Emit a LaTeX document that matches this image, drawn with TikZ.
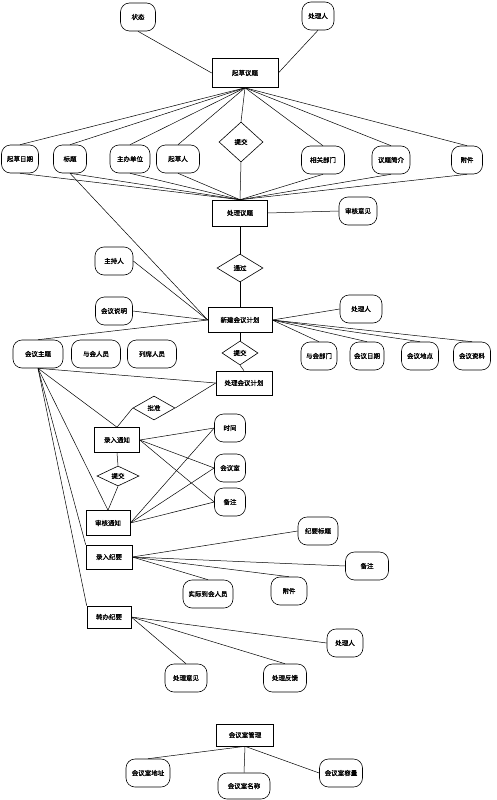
\documentclass[tikz,border=0pt]{standalone}
\usepackage{fontspec}
\newfontfamily\cjk[FakeBold=1.2]{Noto Sans CJK SC}
\usetikzlibrary{shapes.geometric}
\tikzset{
  base/.style={font=\cjk\fontsize{6.5}{7}\selectfont, line width=0.6pt, fill=white, draw=black},
  attr/.style={base, rounded corners=9pt, minimum height=28pt, inner xsep=4pt},
  ent/.style={base, rectangle, minimum height=25pt, inner xsep=5pt},
  rel/.style={base, diamond, inner sep=0pt},
  ln/.style={line width=0.5pt}
}
\begin{document}
\begin{tikzpicture}[x=1pt,y=-1pt]
\useasboundingbox (0,0) rectangle (497,800);
% top
\node[attr, minimum width=35pt] (zt) at (138,17) {状态};
\node[attr, minimum width=32pt] (clrA) at (318,16) {处理人};
\node[ent, minimum width=66pt, minimum height=29pt] (qc) at (245,73) {起草议题};
% row 1
\node[attr, minimum width=37pt] (qcrq) at (20,159) {起草日期};
\node[attr, minimum width=33pt] (bt) at (70,159) {标题};
\node[attr, minimum width=40pt] (zbdw) at (130,159) {主办单位};
\node[attr, minimum width=43pt] (qcr) at (178,159) {起草人};
\node[rel, minimum width=44pt, minimum height=40pt] (tjA) at (241,142) {提交};
\node[attr, minimum width=43pt] (xgbm) at (323,160) {相关部门};
\node[attr, minimum width=38pt] (ytjj) at (391,160) {议题简介};
\node[attr, minimum width=31pt] (fjA) at (467,160) {附件};
% process topic
\node[ent, minimum width=55pt, minimum height=26pt] (clyt) at (240,213) {处理议题};
\node[attr, minimum width=38pt] (shyj) at (358,211) {审核意见};
\node[rel, minimum width=46pt, minimum height=28pt] (tg) at (240,268) {通过};
\node[attr, minimum width=38pt] (zcr) at (114,261) {主持人};
\node[attr, minimum width=37pt] (hysm) at (114,311) {会议说明};
\node[ent, minimum width=64pt] (xj) at (240,320) {新建会议计划};
\node[attr, minimum width=42pt] (clrB) at (361,309) {处理人};
% row 2
\node[attr, minimum width=50pt] (hyzt) at (38,354) {会议主题};
\node[attr, minimum width=49pt] (yhry) at (96,354) {与会人员};
\node[attr, minimum width=49pt] (lxry) at (152,354) {列席人员};
\node[rel, minimum width=36pt, minimum height=24pt] (tjB) at (240,353) {提交};
\node[attr, minimum width=36pt] (yhbm) at (319,356) {与会部门};
\node[attr, minimum width=33pt] (hyrq) at (367,356) {会议日期};
\node[attr, minimum width=37pt] (hydd) at (420,356) {会议地点};
\node[attr, minimum width=37pt] (hyzl) at (472,356) {会议资料};
\node[ent, minimum width=56pt, minimum height=24pt] (clhy) at (244,383) {处理会议计划};
% notice
\node[rel, minimum width=42pt, minimum height=24pt] (pz) at (154,408) {批准};
\node[ent, minimum width=45pt] (lrtz) at (117,440) {录入通知};
\node[rel, minimum width=42pt, minimum height=20pt] (tjC) at (118,476) {提交};
\node[ent, minimum width=44pt] (shtz) at (108,523) {审核通知};
\node[attr, minimum width=31pt] (sj) at (230,428) {时间};
\node[attr, minimum width=31pt] (hys) at (230,468) {会议室};
\node[attr, minimum width=31pt] (bzA) at (230,502) {备注};
% minutes
\node[attr, minimum width=40pt] (jybt) at (318,531) {纪要标题};
\node[ent, minimum width=46pt, minimum height=24pt] (lrjy) at (109,557) {录入纪要};
\node[attr, minimum width=43pt] (bzB) at (367,566) {备注};
\node[attr, minimum width=50pt] (sjdh) at (208,594) {实际到会人员};
\node[attr, minimum width=36pt] (fjB) at (289,591) {附件};
\node[ent, minimum width=44pt, minimum height=22pt] (zbjy) at (109,617) {转办纪要};
\node[attr, minimum width=36pt] (clrC) at (345,643) {处理人};
\node[attr, minimum width=42pt] (clyj) at (186,678) {处理意见};
\node[attr, minimum width=43pt] (clfk) at (285,678) {处理反馈};
% meeting room
\node[ent, minimum width=57pt, minimum height=22pt] (hysgl) at (245,735) {会议室管理};
\node[attr, minimum width=44pt] (dz) at (148,773) {会议室地址};
\node[attr, minimum width=52pt, minimum height=26pt] (mc) at (244,786) {会议室名称};
\node[attr, minimum width=43pt] (rl) at (341,773) {会议室容量};

\begin{scope}[ln]
\draw (zt.south) -- (qc.west);
\draw (clrA.south) -- (qc.east);
\foreach \n in {qcrq,bt,zbdw,qcr,tjA,xgbm,ytjj,fjA} {
  \draw (qc.south) -- (\n.north);
  \draw (\n.south) -- (clyt.north);
}
\draw (bt.south) -- (xj.west);
\draw (clyt.east) -- (shyj.west);
\draw (clyt.south) -- (tg.north);
\draw (tg.south) -- (xj.north);
\draw (zcr.east) -- (xj.west);
\draw (hysm.east) -- (xj.west);
\draw (xj.west) -- (hyzt.north);
\draw (xj.east) -- (clrB.west);
\foreach \n in {yhbm,hyrq,hydd,hyzl} \draw (xj.east) -- (\n.north);
\draw (xj.south) -- (tjB.north);
\draw (tjB.south) -- (clhy.north);
\draw (hyzt.south) -- (clhy.west);
\draw (hyzt.south) -- (lrtz.north);
\draw (hyzt.south) -- (shtz.north);
\draw (hyzt.south) -- (lrjy.north west);
\draw (hyzt.south) -- (zbjy.north west);
\draw (clhy.west) -- (pz.east);
\draw (pz.west) -- (lrtz.north);
\draw (lrtz.south) -- (tjC.north);
\draw (tjC.south) -- (shtz.north);
\foreach \n in {sj,hys,bzA} {
  \draw (lrtz.east) -- (\n.west);
  \draw (shtz.east) -- (\n.west);
}
\draw (lrjy.east) -- (jybt.west);
\draw (lrjy.east) -- (bzB.west);
\draw (lrjy.east) -- (sjdh.north);
\draw (lrjy.east) -- (fjB.north);
\draw (zbjy.east) -- (clrC.west);
\draw (zbjy.east) -- (clyj.north);
\draw (zbjy.east) -- (clfk.north);
\draw (hysgl.south) -- (dz.north);
\draw (hysgl.south) -- (mc.north);
\draw (hysgl.south) -- (rl.west);
\end{scope}
\end{tikzpicture}
\end{document}
